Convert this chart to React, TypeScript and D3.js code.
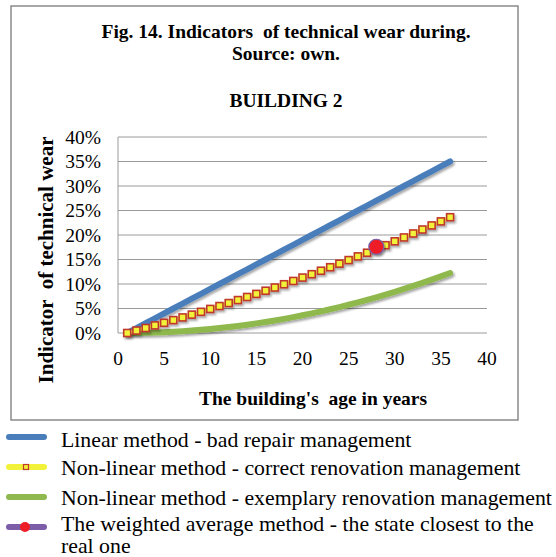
import React from "react";
import * as d3 from "d3";

const years: number[] = [1,2,3,4,5,6,7,8,9,10,11,12,13,14,15,16,17,18,19,20,21,22,23,24,25,26,27,28,29,30,31,32,33,34,35,36];
const linearBad: number[] = [0,1,2,3,4,5,6,7,8,9,10,11,12,13,14,15,16,17,18,19,20,21,22,23,24,25,26,27,28,29,30,31,32,33,34,35];
const nonLinearCorrect: number[] = [0,0.5,1.02,1.55,2.08,2.63,3.18,3.75,4.32,4.91,5.5,6.11,6.72,7.35,7.98,8.63,9.28,9.95,10.62,11.31,12,12.71,13.42,14.15,14.88,15.63,16.38,17.15,17.92,18.71,19.5,20.31,21.12,21.95,22.78,23.63];
const nonLinearExemplary: number[] = [0,0.01,0.04,0.09,0.16,0.25,0.36,0.49,0.64,0.81,1,1.21,1.44,1.69,1.96,2.25,2.56,2.89,3.24,3.61,4,4.41,4.84,5.29,5.76,6.25,6.76,7.29,7.84,8.41,9,9.61,10.24,10.89,11.56,12.25];
const weightedYear: number[] = [28];
const weightedValue: number[] = [17.6];
const xTicks: number[] = [0,5,10,15,20,25,30,35,40];
const yTicks: number[] = [0,5,10,15,20,25,30,35,40];
const legendLabels: string[] = [
  "Linear method - bad repair management",
  "Non-linear method - correct renovation management",
  "Non-linear method - exemplary renovation management",
  "The weighted average method - the state closest to the",
  "real one",
];

const FONT = "'Liberation Serif', 'Times New Roman', serif";
const BLUE = "#4A7EBB";
const GREEN = "#8FB84E";
const YELLOW = "#F2F23A";
const RED_SQ = "#C0392B";
const PURPLE = "#7B5EA7";

export default function App() {
  const x = d3.scaleLinear().domain([0, 40]).range([118, 487]);
  const y = d3.scaleLinear().domain([0, 40]).range([333, 137]);
  const line = d3.line<[number, number]>().x(d => x(d[0])).y(d => y(d[1]));
  const ser = (vals: number[]) => years.map((yr, i) => [yr, vals[i]] as [number, number]);
  const pre = { whiteSpace: "pre" } as React.CSSProperties;

  return (
    <svg width={556} height={557} style={{ position: "absolute", left: 0, top: 0, background: "#fff" }} fontFamily={FONT}>
      <defs>
        <filter id="sh" x="-10%" y="-10%" width="120%" height="130%">
          <feDropShadow dx="1.5" dy="2" stdDeviation="1.2" floodColor="#000" floodOpacity="0.35" />
        </filter>
      </defs>
      <rect x={0} y={0} width={556} height={557} fill="#fff" />
      <rect x={11} y={6} width={507} height={414} fill="none" stroke="#8a8a8a" strokeWidth={1.5} />
      <text x={286} y={38} textAnchor="middle" fontWeight="bold" fontSize={19.5} style={pre}>Fig. 14. Indicators  of technical wear during.</text>
      <text x={286} y={60} textAnchor="middle" fontWeight="bold" fontSize={19.5}>Source: own.</text>
      <text x={286} y={107} textAnchor="middle" fontWeight="bold" fontSize={19.5}>BUILDING 2</text>
      {yTicks.map(t => (
        <line key={"g" + t} x1={118} x2={487} y1={y(t)} y2={y(t)} stroke="#9a9a9a" strokeWidth={1} />
      ))}
      <line x1={118} x2={118} y1={y(40)} y2={y(0)} stroke="#9a9a9a" strokeWidth={1} />
      {yTicks.map(t => (
        <text key={"yt" + t} x={101} y={y(t)} dy="0.35em" textAnchor="end" fontSize={19.5}>{t + "%"}</text>
      ))}
      {xTicks.map(t => (
        <text key={"xt" + t} x={x(t)} y={358} dy="0.35em" textAnchor="middle" fontSize={19.5}>{t}</text>
      ))}
      <text x={313} y={405} textAnchor="middle" fontWeight="bold" fontSize={19.5} style={pre}>The building's  age in years</text>
      <text transform="translate(53,260) rotate(-90)" textAnchor="middle" fontWeight="bold" fontSize={21} style={pre}>Indicator  of technical wear</text>
      <path d={line(ser(nonLinearExemplary)) || ""} fill="none" stroke={GREEN} strokeWidth={6} strokeLinecap="round" filter="url(#sh)" />
      <path d={line(ser(linearBad)) || ""} fill="none" stroke={BLUE} strokeWidth={6} strokeLinecap="round" filter="url(#sh)" />
      <g filter="url(#sh)">
        <path d={line(ser(nonLinearCorrect)) || ""} fill="none" stroke={YELLOW} strokeWidth={3.5} />
        {ser(nonLinearCorrect).map((d, i) => (
          <rect key={"sq" + i} x={x(d[0]) - 3.5} y={y(d[1]) - 3.5} width={7} height={7} fill={YELLOW} stroke={RED_SQ} strokeWidth={1.6} />
        ))}
      </g>
      {weightedYear.map((yr, i) => (
        <circle key={"w" + i} cx={x(yr)} cy={y(weightedValue[i])} r={7.5} fill="#EE1C25" stroke={PURPLE} strokeWidth={1.2} filter="url(#sh)" />
      ))}
      <g fontSize={21.8}>
        <line x1={9} x2={44} y1={437} y2={437} stroke={BLUE} strokeWidth={6} strokeLinecap="round" />
        <text x={61} y={447}>{legendLabels[0]}</text>
        <line x1={9} x2={44} y1={467} y2={467} stroke={YELLOW} strokeWidth={6} strokeLinecap="round" />
        <rect x={23.5} y={464.5} width={5} height={5} fill={YELLOW} stroke={RED_SQ} strokeWidth={1.2} />
        <text x={61} y={475}>{legendLabels[1]}</text>
        <line x1={9} x2={44} y1={497} y2={497} stroke={GREEN} strokeWidth={6} strokeLinecap="round" />
        <text x={61} y={505}>{legendLabels[2]}</text>
        <line x1={9} x2={44} y1={527} y2={527} stroke={PURPLE} strokeWidth={6} strokeLinecap="round" />
        <circle cx={25} cy={527} r={5} fill="#EE1C25" />
        <text x={61} y={531}>{legendLabels[3]}</text>
        <text x={61} y={553}>{legendLabels[4]}</text>
      </g>
    </svg>
  );
}
